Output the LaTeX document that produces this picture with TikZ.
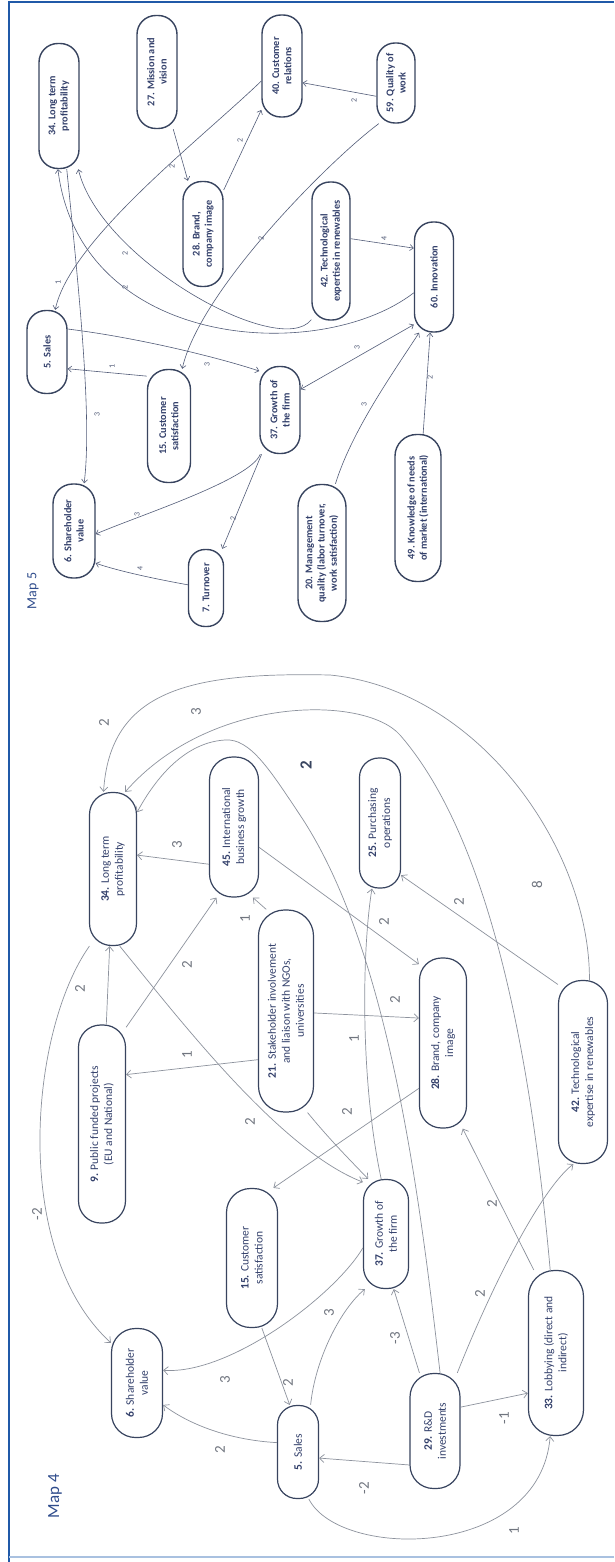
\documentclass[tikz,border=0pt]{standalone}
\usepackage{fontspec}
\setmainfont{Carlito}
\usetikzlibrary{arrows.meta}
\definecolor{frameblue}{HTML}{2059A8}
\definecolor{framelight}{HTML}{A9C1E0}
\definecolor{nodeline}{HTML}{38445F}
\definecolor{nodetext}{HTML}{33406B}
\definecolor{edgefour}{HTML}{8D929D}
\definecolor{edgefive}{HTML}{525C78}
\definecolor{handgray}{HTML}{70757F}
\definecolor{maptitle}{HTML}{2F4C8C}
\tikzset{
  sz/.style 2 args={minimum height=#1pt, minimum width=#2pt, rounded corners=#1*0.47pt},
  fourbox/.style={draw=nodeline, line width=1.2pt, fill=white, rotate=90, align=center, text=nodetext, font=\fontsize{11.5}{14}\selectfont, inner sep=1pt},
  fivebox/.style={draw=nodeline, line width=1.4pt, fill=white, rotate=90, align=center, text=nodetext, font=\fontsize{10.3}{12.3}\selectfont\bfseries, inner sep=1pt},
  e4/.style={draw=edgefour, line width=0.7pt, -{Straight Barb[length=4.5pt,width=8pt]}},
  e5/.style={draw=edgefive, line width=0.6pt, -{Straight Barb[length=3.5pt,width=6pt]}},
  hand4/.style={rotate=90, text=handgray, font=\fontsize{15}{15}\selectfont, inner sep=0pt},
  hand5/.style={rotate=90, text=edgefive, font=\fontsize{8}{8}\selectfont, inner sep=0pt},
  maplabel/.style={rotate=90, text=maptitle, inner sep=0pt},
}
\begin{document}
\begin{tikzpicture}[x=1pt,y=-1pt]
\useasboundingbox (0,0) rectangle (614,1562);
\fill[white] (0,0) rectangle (614,1562);
% frame
\draw[frameblue, line width=2.5pt] (9,1562) -- (9,2) -- (614,2);
\draw[framelight, line width=2pt] (9,1557) -- (614,1557);

% ================= Map 5 =================
\node[maplabel, font=\fontsize{14}{14}\selectfont] (t5) at (33,591) {Map 5};
\node[fivebox, sz={40}{125}] (m34) at (59,106) {34. Long term\\profitability};
\node[fivebox, sz={40}{113}] (m27) at (157,72) {27. Mission and\\vision};
\node[fivebox, sz={40}{102}] (m40) at (282,66) {40. Customer\\relations};
\node[fivebox, sz={38}{80}] (m59) at (396,83) {59. Quality of\\work};
\node[fivebox, sz={40}{105}] (m28) at (203,234) {28. Brand,\\company image};
\node[fivebox, sz={38}{138}] (m42) at (331,251) {42. Technological\\expertise in renewables};
\node[fivebox, sz={39}{110}] (m60) at (434,277) {60. Innovation};
\node[fivebox, sz={40}{83}] (m5) at (47,352) {5. Sales};
\node[fivebox, sz={43}{113}] (m15) at (169,426) {15. Customer\\satisfaction};
\node[fivebox, sz={40}{87}] (m37) at (280,410) {37. Growth of\\the firm};
\node[fivebox, sz={42}{94}] (m6) at (74,531) {6. Shareholder\\value};
\node[fivebox, sz={35}{77}] (m7) at (206,588) {7. Turnover};
\node[fivebox, sz={48}{137}] (m20) at (322,553) {20. Management\\quality (labor turnover,\\work satisfaction)};
\node[fivebox, sz={46}{147}] (m49) at (418,508) {49. Knowledge of needs\\of market (international)};

\draw[e5] (m27) -- (m28);
\draw[e5] (m28) -- (m40);
\draw[e5] (m59.124) -- (m40.-129);
\draw[e5] (m40.126) .. controls (200,140) and (70,240) .. (m5.-11);
\draw[e5] (m59.157) .. controls (330,160) and (200,290) .. (m15.-13);
\draw[e5] (m42.164) .. controls (280,360) and (100,260) .. (m34.-163);
\draw[e5] (m60.128) .. controls (320,365) and (80,350) .. (m34.179);
\draw[e5] (m34.-173) .. controls (80,300) and (92,420) .. (m6.-12);
\draw[e5] (m37.156) .. controls (250,480) and (140,515) .. (m6.-98);
\draw[e5] (m37) -- (m7);
\draw[e5] (m7.80) .. controls (150,578) and (115,570) .. (m6.-146);
\draw[e5, {Straight Barb[length=3.5pt,width=6pt]}-{Straight Barb[length=3.5pt,width=6pt]}] (m60.157) -- (m37.-45);
\draw[e5] (m20.-11) .. controls (352,430) and (395,370) .. (m60.165);
\draw[e5] (m49) -- (m60);
\draw[e5] (m42.-58) -- (m60.35);
\draw[e5] (m5.-42) .. controls (140,338) and (220,358) .. (m37.28);
\draw[e5] (m15.24) -- (m5.-129);

\node[hand5] (l5a) at (172,166) {2};
\node[hand5] (l5b) at (240,140) {2};
\node[hand5] (l5c) at (354,100) {2};
\node[hand5] (l5d) at (58,282) {1};
\node[hand5] (l5e) at (261,238) {2};
\node[hand5] (l5f) at (125,253) {2};
\node[hand5] (l5g) at (125,287) {2};
\node[hand5] (l5h) at (97,414) {3};
\node[hand5] (l5i) at (137,514) {3};
\node[hand5] (l5j) at (233,518) {2};
\node[hand5] (l5k) at (140,568) {4};
\node[hand5] (l5l) at (357,347) {3};
\node[hand5] (l5m) at (364,404) {3};
\node[hand5] (l5n) at (430,377) {2};
\node[hand5] (l5o) at (384,238) {4};
\node[hand5] (l5p) at (207,364) {3};
\node[hand5] (l5q) at (112,366) {1};

% ================= Map 4 =================
\node[maplabel, font=\fontsize{17}{17}\selectfont] (t4) at (55,1496) {Map 4};
\node[fourbox, sz={47}{153}] (f34) at (113,869) {\textbf{34.} Long term\\profitability};
\node[fourbox, sz={49}{140}] (f45) at (234,827) {\textbf{45.} International\\business growth};
\node[fourbox, sz={41}{130}] (f25) at (380,823) {\textbf{25.} Purchasing\\operations};
\node[fourbox, sz={47}{198}] (f9) at (102,1124) {\textbf{9.} Public funded projects\\(EU and National)};
\node[fourbox, sz={55}{202}] (f21) at (286,1011) {\textbf{21.} Stakeholder involvement\\and liaison with NGOs,\\universities};
\node[fourbox, sz={47}{170}] (f28) at (443,1043) {\textbf{28.} Brand, company\\image};
\node[fourbox, sz={49}{183}] (f42) at (583,1072) {\textbf{42.} Technological\\expertise in renewables};
\node[fourbox, sz={51}{139}] (f15) at (252,1258) {\textbf{15.} Customer\\satisfaction};
\node[fourbox, sz={45}{109}] (f37) at (386,1234) {\textbf{37.} Growth of\\the firm};
\node[fourbox, sz={51}{109}] (f6) at (137,1383) {\textbf{6.} Shareholder\\value};
\node[fourbox, sz={41}{93}] (f5) at (298,1452) {\textbf{5.} Sales};
\node[fourbox, sz={50}{115}] (f29) at (435,1431) {\textbf{29.} R\&D\\investments};
\node[fourbox, sz={55}{165}] (f33) at (556,1353) {\textbf{33.} Lobbying (direct and\\indirect)};

\draw[e4] (f9) -- (f34);
\draw[e4] (f9.-14) -- (f45.166);
\draw[e4] (f45.146) -- (f34.-60);
\draw[e4] (f21.150) -- (f9.-26);
\draw[e4] (f21.11) -- (f45.-165);
\draw[e4] (f21.-94) -- (f28.44);
\draw[e4] (f45.-129) -- (f28.17);
\draw[e4] (f42.16) -- (f25.-158);
\draw[e4] (f42.-4) .. controls (590,850) and (480,690) .. (330,675) .. controls (190,672) and (110,690) .. (f34.7);
\draw[e4] (f33.4) .. controls (535,1100) and (500,850) .. (400,735) .. controls (365,695) and (210,695) .. (f34.-9);
\draw[e4] (f29.-5) .. controls (420,1200) and (390,950) .. (300,815) .. controls (270,770) and (250,738) .. (225,740) .. controls (190,742) and (160,770) .. (f34.-23);
\draw[e4] (f34.-175) .. controls (180,1020) and (280,1150) .. (f37.24);
\draw[e4] (f28.152) -- (f15.-17);
\draw[e4] (f37.5) .. controls (360,1080) and (362,950) .. (f25.173);
\draw[e4] (f21.-168) .. controls (330,1140) and (350,1160) .. (f37.18);
\draw[e4] (f5.-15) .. controls (315,1360) and (340,1310) .. (f37.159);
\draw[e4] (f37.121) .. controls (335,1295) and (230,1375) .. (f6.-64);
\draw[e4] (f15.-172) -- (f5.10);
\draw[e4] (f5.66) .. controls (230,1440) and (190,1425) .. (f6.-130);
\draw[e4] (f34.163) .. controls (30,1030) and (10,1250) .. (f6.33);
\draw[e4] (f29.143) -- (f5.-106);
\draw[e4] (f29.15) -- (f37.-172);
\draw[e4] (f29.-47) -- (f33.145);
\draw[e4] (f5.-167) .. controls (340,1560) and (540,1560) .. (f33.176);
\draw[e4] (f29.-21) .. controls (490,1290) and (540,1190) .. (f42.174);
\draw[e4] (f33.15) -- (f28.-167);

\node[hand4] (l4a) at (80,989) {2};
\node[hand4] (l4b) at (187,965) {2};
\node[hand4] (l4c) at (177,845) {3};
\node[hand4] (l4d) at (187,1055) {1};
\node[hand4] (l4e) at (245,919) {1};
\node[hand4] (l4f) at (395,1000) {2};
\node[hand4] (l4g) at (384,922) {2};
\node[hand4] (l4h) at (459,902) {2};
\node[hand4] (l4i) at (104,723) {2};
\node[hand4] (l4j) at (537,885) {8};
\node[hand4] (l4k) at (196,712) {3};
\node[hand4, text=nodeline, font=\fontsize{17}{17}\selectfont\bfseries] (l4l) at (306,765) {2};
\node[hand4] (l4m) at (250,1122) {2};
\node[hand4] (l4n) at (347,1112) {2};
\node[hand4] (l4o) at (354,1039) {1};
\node[hand4] (l4p) at (329,1313) {3};
\node[hand4] (l4q) at (225,1380) {3};
\node[hand4] (l4r) at (288,1383) {2};
\node[hand4] (l4s) at (220,1450) {2};
\node[hand4] (l4t) at (37,1214) {-2};
\node[hand4] (l4u) at (364,1488) {-2};
\node[hand4] (l4v) at (395,1338) {-3};
\node[hand4] (l4w) at (504,1418) {-1};
\node[hand4] (l4x) at (514,1531) {1};
\node[hand4] (l4y) at (480,1294) {2};
\node[hand4] (l4z) at (492,1204) {2};
\end{tikzpicture}
\end{document}
